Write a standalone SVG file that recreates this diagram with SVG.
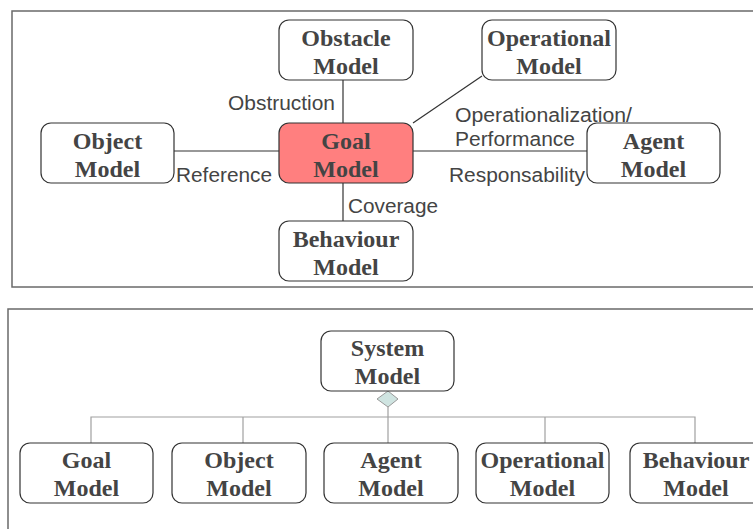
<svg xmlns="http://www.w3.org/2000/svg" width="753" height="529" viewBox="0 0 753 529">
<style>
.frame{fill:none;stroke:#6a6a6a;stroke-width:1.5}
.node rect{fill:#fff;stroke:#333;stroke-width:1.2}
.goal rect{fill:#ff7f7f}
.nt{font-family:"Liberation Serif",serif;font-weight:bold;font-size:24px;fill:#444;text-anchor:middle}
.lbl{font-family:"Liberation Sans",sans-serif;font-size:20px;fill:#444}
.c{stroke:#333;stroke-width:1.2;fill:none}
.t{stroke:#a0a0a0;stroke-width:1.2;fill:none}
</style>
<rect width="753" height="529" fill="#fff"/>
<rect class="frame" x="12" y="11" width="760" height="276"/>
<rect class="frame" x="8" y="309" width="760" height="240"/>

<g id="connectors">
<line class="c" x1="343" y1="80" x2="343" y2="123"/>
<line class="c" x1="174" y1="151" x2="279" y2="151"/>
<line class="c" x1="413" y1="151" x2="587" y2="151"/>
<line class="c" x1="343" y1="183" x2="343" y2="221"/>
<line class="c" x1="413" y1="123" x2="482" y2="76"/>
<text class="lbl" x="228" y="110" textLength="107" lengthAdjust="spacingAndGlyphs">Obstruction</text>
<text class="lbl" x="176" y="182" textLength="96" lengthAdjust="spacingAndGlyphs">Reference</text>
<text class="lbl" x="455" y="122" textLength="177" lengthAdjust="spacingAndGlyphs">Operationalization/</text>
<text class="lbl" x="455" y="146" textLength="120" lengthAdjust="spacingAndGlyphs">Performance</text>
<text class="lbl" x="449" y="182" textLength="136" lengthAdjust="spacingAndGlyphs">Responsability</text>
<text class="lbl" x="348" y="213" textLength="90" lengthAdjust="spacingAndGlyphs">Coverage</text>

<polyline class="t" points="91,443 91,417 695,417 695,443"/>
<line class="t" x1="243" y1="417" x2="243" y2="443"/>
<line class="t" x1="545" y1="417" x2="545" y2="443"/>
<line class="t" x1="388" y1="407" x2="388" y2="443"/>
<polygon points="388,391 398,399 388,407 377,399" fill="#cfe4e1" stroke="#999" stroke-width="1"/>
</g>

<g id="obstacle" class="node"><rect x="279" y="20" width="134" height="60" rx="10"/><text class="nt" x="346" y="46">Obstacle</text><text class="nt" x="346" y="74">Model</text></g>
<g id="operational" class="node"><rect x="482" y="20" width="134" height="60" rx="10"/><text class="nt" x="549" y="46">Operational</text><text class="nt" x="549" y="74">Model</text></g>
<g id="object" class="node"><rect x="41" y="123" width="133" height="60" rx="10"/><text class="nt" x="107.5" y="149">Object</text><text class="nt" x="107.5" y="177">Model</text></g>
<g id="goal" class="node goal"><rect x="279" y="123" width="134" height="60" rx="10"/><text class="nt" x="346" y="149">Goal</text><text class="nt" x="346" y="177">Model</text></g>
<g id="agent" class="node"><rect x="587" y="123" width="133" height="60" rx="10"/><text class="nt" x="653.5" y="149">Agent</text><text class="nt" x="653.5" y="177">Model</text></g>
<g id="behaviour" class="node"><rect x="279" y="221" width="134" height="60" rx="10"/><text class="nt" x="346" y="247">Behaviour</text><text class="nt" x="346" y="275">Model</text></g>

<g id="system" class="node"><rect x="321" y="331" width="133" height="60" rx="10"/><text class="nt" x="387.5" y="356">System</text><text class="nt" x="387.5" y="384">Model</text></g>
<g id="goal2" class="node"><rect x="20" y="443" width="133" height="60" rx="10"/><text class="nt" x="86.5" y="468">Goal</text><text class="nt" x="86.5" y="496">Model</text></g>
<g id="object2" class="node"><rect x="172" y="443" width="134" height="60" rx="10"/><text class="nt" x="239" y="468">Object</text><text class="nt" x="239" y="496">Model</text></g>
<g id="agent2" class="node"><rect x="324" y="443" width="134" height="60" rx="10"/><text class="nt" x="391" y="468">Agent</text><text class="nt" x="391" y="496">Model</text></g>
<g id="operational2" class="node"><rect x="476" y="443" width="133" height="60" rx="10"/><text class="nt" x="542.5" y="468">Operational</text><text class="nt" x="542.5" y="496">Model</text></g>
<g id="behaviour2" class="node"><rect x="630" y="443" width="133" height="60" rx="10"/><text class="nt" x="696" y="468">Behaviour</text><text class="nt" x="696" y="496">Model</text></g>
</svg>
